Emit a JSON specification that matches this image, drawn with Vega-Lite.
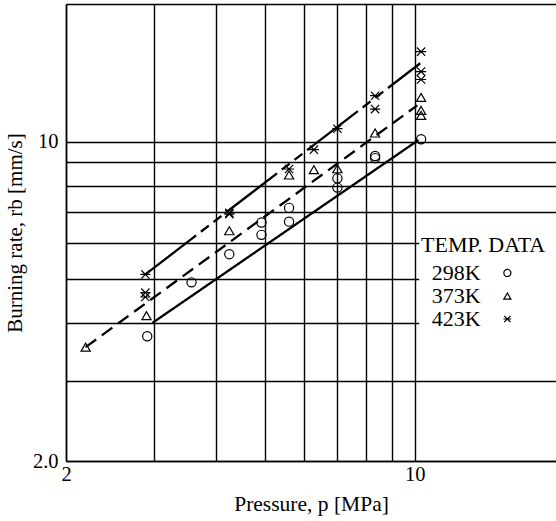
{
  "$schema": "https://vega.github.io/schema/vega-lite/v6.json",
  "width": 490,
  "height": 457,
  "autosize": {"type": "none"},
  "padding": {"left": 66, "top": 4, "right": 0, "bottom": 60},
  "background": "white",
  "config": {"view": {"stroke": null}, "font": "Liberation Serif"},
  "datasets": {
    "points": [
      {"temp": "298K", "p": 2.91, "r": 3.75},
      {"temp": "298K", "p": 3.57, "r": 4.92},
      {"temp": "298K", "p": 4.25, "r": 5.67},
      {"temp": "298K", "p": 4.93, "r": 6.65},
      {"temp": "298K", "p": 4.93, "r": 6.25},
      {"temp": "298K", "p": 5.6, "r": 7.16},
      {"temp": "298K", "p": 5.6, "r": 6.68},
      {"temp": "298K", "p": 7.0, "r": 8.31},
      {"temp": "298K", "p": 7.0, "r": 7.93},
      {"temp": "298K", "p": 8.33, "r": 9.3},
      {"temp": "298K", "p": 8.33, "r": 9.2},
      {"temp": "298K", "p": 10.3, "r": 10.12},
      {"temp": "373K", "p": 2.19, "r": 3.55},
      {"temp": "373K", "p": 2.9, "r": 4.16},
      {"temp": "373K", "p": 4.25, "r": 6.38},
      {"temp": "373K", "p": 5.6, "r": 8.45},
      {"temp": "373K", "p": 6.28, "r": 8.68},
      {"temp": "373K", "p": 7.0, "r": 8.72},
      {"temp": "373K", "p": 8.33, "r": 10.44},
      {"temp": "373K", "p": 10.3, "r": 12.49},
      {"temp": "373K", "p": 10.3, "r": 11.7},
      {"temp": "373K", "p": 10.3, "r": 11.41},
      {"temp": "423K", "p": 2.885, "r": 5.12},
      {"temp": "423K", "p": 2.885, "r": 4.67},
      {"temp": "423K", "p": 2.885, "r": 4.57},
      {"temp": "423K", "p": 4.25, "r": 6.98},
      {"temp": "423K", "p": 4.25, "r": 6.94},
      {"temp": "423K", "p": 5.6, "r": 8.71},
      {"temp": "423K", "p": 6.28, "r": 9.6},
      {"temp": "423K", "p": 7.0, "r": 10.67},
      {"temp": "423K", "p": 8.33, "r": 12.6},
      {"temp": "423K", "p": 8.33, "r": 11.78},
      {"temp": "423K", "p": 10.3, "r": 15.73},
      {"temp": "423K", "p": 10.3, "r": 14.23},
      {"temp": "423K", "p": 10.3, "r": 13.67}
    ],
    "fits": [
      {"temp": "298K", "p": 2.98, "r": 4.01},
      {"temp": "298K", "p": 10.18, "r": 10.08},
      {"temp": "373K", "p": 2.19, "r": 3.55},
      {"temp": "373K", "p": 10.12, "r": 12.0},
      {"temp": "423K", "p": 2.885, "r": 5.12},
      {"temp": "423K", "p": 10.26, "r": 14.84}
    ],
    "legendbox": [
      {"p": 10.21, "p2": 19.2, "r": 3.79, "r2": 6.28}
    ],
    "legendtext": [
      {"label": "TEMP. DATA", "p": 10.3, "r": 5.94},
      {"label": "298K", "p": 10.82, "r": 5.158},
      {"label": "373K", "p": 10.82, "r": 4.59},
      {"label": "423K", "p": 10.82, "r": 4.09}
    ],
    "legendsym": [
      {"temp": "298K", "p": 15.34, "r": 5.158},
      {"temp": "373K", "p": 15.34, "r": 4.59},
      {"temp": "423K", "p": 15.34, "r": 4.09}
    ]
  },
  "encoding": {
    "x": {
      "field": "p",
      "type": "quantitative",
      "scale": {"type": "log", "domain": [2, 19.2], "nice": false, "zero": false},
      "axis": {
        "title": "Pressure, p [MPa]",
        "values": [2, 3, 4, 5, 6, 7, 8, 9, 10],
        "labelExpr": "datum.value == 2 ? '2' : (datum.value == 10 ? '10' : '')",
        "grid": true,
        "gridColor": "black",
        "gridWidth": 1.4,
        "gridOpacity": 1,
        "ticks": false,
        "domainColor": "black",
        "domainWidth": 1.5,
        "labelFont": "Liberation Serif",
        "labelFontSize": 20.5,
        "labelColor": "black",
        "labelPadding": 3,
        "labelFlush": false,
        "labelOverlap": false,
        "titleFont": "Liberation Serif",
        "titleFontSize": 21.5,
        "titleFontWeight": "normal",
        "titleColor": "black",
        "titlePadding": 9
      }
    },
    "y": {
      "field": "r",
      "type": "quantitative",
      "scale": {"type": "log", "domain": [2, 20], "nice": false, "zero": false},
      "axis": {
        "title": "Burning rate, rb [mm/s]",
        "values": [2, 3, 4, 5, 6, 7, 8, 9, 10, 20],
        "labelExpr": "datum.value == 2 ? '2.0' : (datum.value == 10 ? '10' : '')",
        "grid": true,
        "gridColor": "black",
        "gridWidth": 1.4,
        "gridOpacity": 1,
        "ticks": false,
        "domainColor": "black",
        "domainWidth": 1.5,
        "labelFont": "Liberation Serif",
        "labelFontSize": 20.5,
        "labelColor": "black",
        "labelPadding": 8,
        "labelFlush": false,
        "labelOverlap": false,
        "titleFont": "Liberation Serif",
        "titleFontSize": 21,
        "titleFontWeight": "normal",
        "titleColor": "black",
        "titlePadding": 7
      }
    }
  },
  "layer": [
    {
      "data": {"name": "legendbox"},
      "mark": {"type": "rect", "fill": "white", "stroke": null},
      "encoding": {"x2": {"field": "p2"}, "y2": {"field": "r2"}}
    },
    {
      "data": {"name": "fits"},
      "mark": {"type": "line", "color": "black", "strokeWidth": 2.3},
      "encoding": {
        "strokeDash": {
          "field": "temp",
          "type": "nominal",
          "scale": {"domain": ["298K", "373K", "423K"], "range": [[1, 0], [13, 7], [64, 6, 10, 6, 10, 6]]},
          "legend": null
        }
      }
    },
    {
      "data": {"name": "points"},
      "mark": {"type": "point", "filled": false, "color": "black", "strokeWidth": 1.2, "size": 85, "opacity": 1},
      "encoding": {
        "shape": {
          "field": "temp",
          "type": "nominal",
          "scale": {"domain": ["298K", "373K", "423K"], "range": ["circle", "triangle-up", "M-0.9,-0.9L0.9,0.9M-0.9,0.9L0.9,-0.9M-1.1,0L1.1,0"]},
          "legend": null
        }
      }
    },
    {
      "data": {"name": "legendsym"},
      "mark": {"type": "point", "filled": false, "color": "black", "strokeWidth": 1.2, "size": 50, "opacity": 1},
      "encoding": {
        "shape": {
          "field": "temp",
          "type": "nominal",
          "scale": {"domain": ["298K", "373K", "423K"], "range": ["circle", "triangle-up", "M-0.9,-0.9L0.9,0.9M-0.9,0.9L0.9,-0.9M-1.1,0L1.1,0"]},
          "legend": null
        }
      }
    },
    {
      "data": {"name": "legendtext"},
      "mark": {"type": "text", "align": "left", "baseline": "middle", "font": "Liberation Serif", "fontSize": 22, "color": "black"},
      "encoding": {"text": {"field": "label", "type": "nominal"}}
    }
  ]
}
